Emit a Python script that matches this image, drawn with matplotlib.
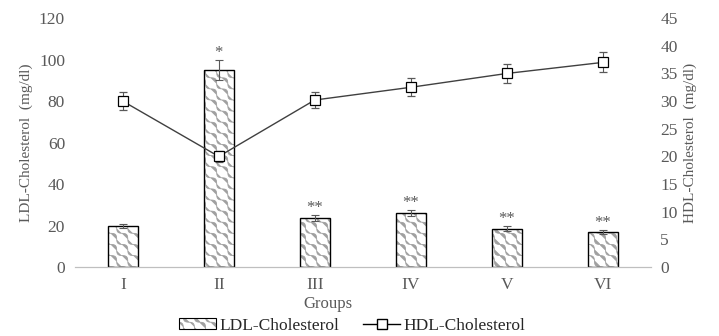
import numpy as np
import matplotlib.pyplot as plt
import matplotlib.hatch as mhatch
from matplotlib.path import Path
from matplotlib.lines import Line2D
from matplotlib.legend_handler import HandlerTuple

plt.rcParams['font.family'] = ['Liberation Serif', 'DejaVu Serif']
plt.rcParams['hatch.linewidth'] = 0.6


class WavyHatch(mhatch.HatchPatternBase):
    # wavy diagonal lines, used in place of the plain '\' hatch
    npts = 160

    def __init__(self, hatch, density):
        self.num_lines = int(hatch.count('\\') * density * 0.75)
        self.num_vertices = (3 * self.num_lines + 1) * self.npts if self.num_lines else 0

    def set_vertices_and_codes(self, vertices, codes):
        n = self.num_lines
        t = np.linspace(-0.05, 1.05, self.npts)
        offs = 0.016 * np.sin(2 * np.pi * n * t)
        for i, c in enumerate(np.linspace(-1, 2, 3 * n + 1)):
            seg = slice(i * self.npts, (i + 1) * self.npts)
            vertices[seg, 0] = t + offs
            vertices[seg, 1] = c - t + offs
            codes[seg] = Path.LINETO
            codes[i * self.npts] = Path.MOVETO


mhatch._hatch_types = [WavyHatch if h is mhatch.SouthEastHatch else h
                       for h in mhatch._hatch_types]

groups = ['I', 'II', 'III', 'IV', 'V', 'VI']
ldl = [20, 95, 23.5, 26, 18.5, 17]
ldl_err = [1, 5, 1.5, 1.5, 1.2, 0.8]
hdl = [30, 20, 30.2, 32.5, 35, 37]
hdl_err = [1.6, 1.0, 1.5, 1.6, 1.8, 1.8]
marks = ['', '*', '**', '**', '**', '**']

grey = '#595959'
hatch_grey = '#a0a0a0'
x = np.arange(len(groups))

fig, ax = plt.subplots(figsize=(7.19, 3.36), dpi=100)
fig.subplots_adjust(left=0.104, right=0.905, top=0.946, bottom=0.205)

# hatch fill in grey, then a black outline over it
ax.bar(x, ldl, width=0.31, color='white', edgecolor=hatch_grey,
       linewidth=0, hatch='\\\\', zorder=2)
ax.bar(x, ldl, width=0.31, fill=False, edgecolor='black', linewidth=1.0, zorder=2)
ax.errorbar(x, ldl, yerr=ldl_err, fmt='none', ecolor=grey, elinewidth=0.8,
            capsize=3, capthick=0.8, zorder=3)
for xi, v, e, m in zip(x, ldl, ldl_err, marks):
    if m:
        ax.text(xi, v + e - 0.5, m, ha='center', va='bottom', fontsize=12, color=grey)

ax.set_ylim(0, 120)
ax.set_yticks(range(0, 121, 20))
ax.set_xlim(-0.5, 5.5)
ax.set_xticks(x)
ax.set_xticklabels(groups)
ax.set_ylabel('LDL-Cholesterol  (mg/dl)', color=grey, fontsize=11)
ax.set_xlabel('Groups', color=grey, fontsize=12)
ax.xaxis.set_label_coords(0.44, -0.115)

ax2 = ax.twinx()
ax2.errorbar(x, hdl, yerr=hdl_err, color='#404040', linewidth=1.0,
             marker='s', markersize=7, markerfacecolor='white',
             markeredgecolor='black', markeredgewidth=0.9,
             ecolor=grey, elinewidth=0.8, capsize=3, capthick=0.8, zorder=3)
ax2.set_ylim(0, 45)
ax2.set_yticks(range(0, 46, 5))
ax2.set_ylabel('HDL-Cholesterol  (mg/dl)', color=grey, fontsize=11, labelpad=4)

for a in (ax, ax2):
    for s in ('top', 'left', 'right'):
        a.spines[s].set_visible(False)
    a.spines['bottom'].set_color('#bfbfbf')
    a.tick_params(length=0, labelsize=12.5, labelcolor=grey, pad=7)

ldl_handle = (plt.Rectangle((0, 0), 1, 1, facecolor='white', edgecolor=hatch_grey,
                            linewidth=0, hatch='\\\\'),
              plt.Rectangle((0, 0), 1, 1, fill=False, edgecolor='black', linewidth=0.8))
hdl_handle = Line2D([], [], color='black', linewidth=1.0, marker='s', markersize=7,
                    markerfacecolor='white', markeredgecolor='black')
fig.legend([ldl_handle, hdl_handle], ['LDL-Cholesterol', 'HDL-Cholesterol'],
           handler_map={tuple: HandlerTuple(ndivide=1, pad=0)},
           loc='lower center', ncol=2, frameon=False, fontsize=12.5,
           bbox_to_anchor=(0.49, -0.04), handlelength=2.1, handleheight=0.6,
           handletextpad=0.2, columnspacing=1.4, labelcolor='#262626')

fig.savefig('out.png', dpi=100)
